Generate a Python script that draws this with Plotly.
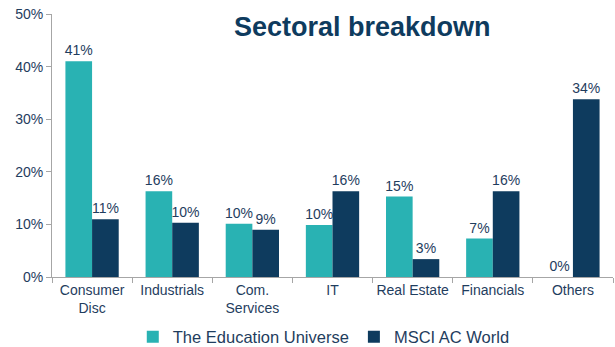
import plotly.graph_objects as go

categories = ["Consumer<br>Disc", "Industrials", "Com.<br>Services", "IT", "Real Estate", "Financials", "Others"]
edu_universe = [41.0, 16.3, 10.1, 9.9, 15.3, 7.3, 0.0]
msci_acwi = [11.0, 10.3, 9.0, 16.3, 3.4, 16.3, 33.8]
series_names = ["The Education Universe", "MSCI AC World"]
tick_vals = [0, 10, 20, 30, 40, 50]
tick_text = ["0%", "10%", "20%", "30%", "40%", "50%"]

TEAL = "#29B2B3"
NAVY = "#0E3B5E"
TXT = "#1F3D5E"
FONT = "Liberation Sans, Arial, sans-serif"

fig = go.Figure()
for name, vals, col in [(series_names[0], edu_universe, TEAL), (series_names[1], msci_acwi, NAVY)]:
    fig.add_trace(go.Bar(
        x=categories, y=vals, name=name, marker_color=col,
        marker_line_width=0,
        texttemplate="%{y:.0f}%", textposition="outside",
        constraintext="none",
        textfont=dict(family=FONT, size=14, color=TXT),
        cliponaxis=False,
    ))

fig.update_layout(
    width=615, height=347,
    margin=dict(l=52, r=2, t=14, b=70),
    paper_bgcolor="white", plot_bgcolor="white",
    barmode="group", bargap=0.335, bargroupgap=0,
    font=dict(family=FONT, color=TXT, size=14),
    showlegend=True,
    legend=dict(orientation="h", x=0.144, xanchor="left", yref="container", y=0.029, yanchor="middle",
                bgcolor="rgba(0,0,0,0)",
                font=dict(family=FONT, size=16.5, color=TXT), traceorder="normal"),
    annotations=[dict(text="<b>Sectoral breakdown</b>", x=0.553, y=0.95, xref="paper", yref="paper",
                      xanchor="center", yanchor="middle", showarrow=False,
                      font=dict(family=FONT, size=27, color=NAVY))],
)
fig.update_yaxes(range=[0, 50], tickvals=tick_vals, ticktext=tick_text, showgrid=False,
                 showline=True, linecolor="#A6A6A6", linewidth=1, ticks="outside",
                 tickcolor="#A6A6A6", ticklen=5, tickfont=dict(family=FONT, size=14, color=TXT),
                 zeroline=False)
fig.update_xaxes(showline=True, linecolor="#A6A6A6", linewidth=1, ticks="outside",
                 tickson="boundaries", tickcolor="#A6A6A6", ticklen=5, showgrid=False,
                 tickangle=0,
                 tickfont=dict(family=FONT, size=14, color=TXT))

fig.write_html("out.html")
